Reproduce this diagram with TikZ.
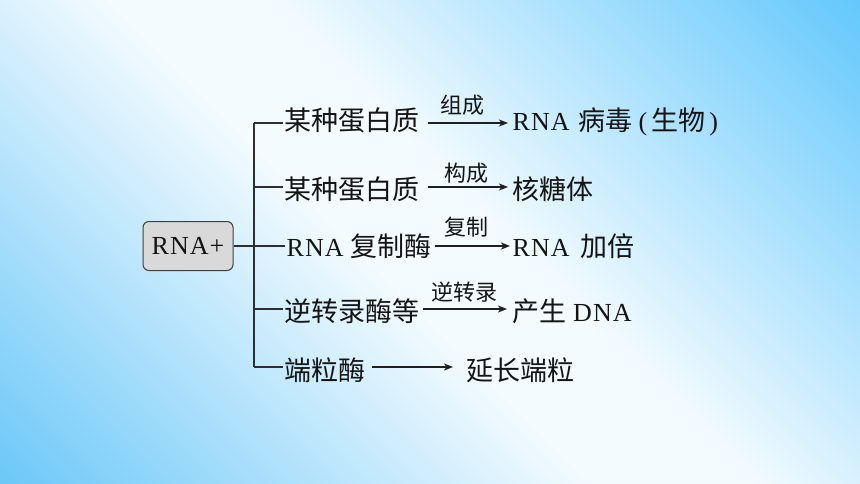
\documentclass[tikz,border=0pt]{standalone}
\usepackage{fontspec}
\setmainfont{Liberation Serif}[LetterSpace=4]
\newfontfamily\cjk{Noto Sans CJK SC}
\usetikzlibrary{arrows.meta}
\newcommand\zh[1]{{\cjk\fontsize{27}{30}\selectfont #1}}
\newcommand\zl[1]{{\cjk\fontsize{22}{26}\selectfont #1}}
\definecolor{skyA}{RGB}{100,200,252}
\definecolor{skyB}{RGB}{108,200,248}
\pgfdeclareverticalshading{bgsh}{100bp}{color(0bp)=(skyB); color(14.6bp)=(skyB); color(31bp)=(skyB!52!white); color(46bp)=(skyA!7!white); color(54bp)=(skyA!7!white); color(69bp)=(skyA!52!white); color(85.4bp)=(skyA); color(100bp)=(skyA)}
\begin{document}
\begin{tikzpicture}[x=1pt,y=-1pt,
  txt/.style={anchor=base west, inner sep=0pt, font=\fontsize{26}{30}\selectfont, text=black!92},
  lab/.style={anchor=base, inner sep=0pt, text=black!92},
  ln/.style={line width=1.3pt, draw=black!82},
  arr/.style={line width=1.2pt, draw=black!88, -{Stealth[length=9pt,width=7pt,inset=2.5pt]}},
  box/.style={draw=black!75, fill=black!15, rounded corners=6pt, line width=1pt,
    minimum width=90pt, minimum height=49pt, inner sep=0pt,
    font=\fontsize{26}{30}\selectfont, text=black!92},
]
\useasboundingbox (0,0) rectangle (860,484);
\shade[shading=bgsh, shading angle=-45] (0,0) rectangle (860,484);

\node[box] (rna) at (188,246) {RNA+};

\coordinate (j1) at (254,123);
\coordinate (j2) at (254,187);
\coordinate (j3) at (254,246);
\coordinate (j4) at (254,309);
\coordinate (j5) at (254,367);

% sources
\node[txt] (s1) at (284,131) {\zh{某种蛋白质}};
\node[txt] (s2) at (284,200) {\zh{某种蛋白质}};
\node[txt] (s3) at (286.5,256.7) {RNA\hspace{7pt}\zh{复制酶}};
\node[txt] (s4) at (284,321) {\zh{逆转录酶等}};
\node[txt] (s5) at (284,380) {\zh{端粒酶}};

% targets
\node[txt] (t1) at (512.5,131) {RNA\hspace{9pt}\zh{病毒}\hspace{6pt}(\hspace{4pt}\zh{生物}\hspace{4pt})};
\node[txt] (t2) at (512,200) {\zh{核糖体}};
\node[txt] (t3) at (512.5,256.7) {RNA\hspace{11pt}\zh{加倍}};
\node[txt] (t4) at (512,321) {\zh{产生}\hspace{7pt}DNA};
\node[txt] (t5) at (466,380) {\zh{延长端粒}};

% labels
\node[lab] (l1) at (462.5,113.5) {\zl{组成}};
\node[lab] (l2) at (466.5,181.5) {\zl{构成}};
\node[lab] (l3) at (466.5,235.5) {\zl{复制}};
\node[lab] (l4) at (464,300.5) {\zl{逆转录}};

% tree
\draw[ln] (rna.east |- j3) -- (j3);
\draw[ln] (j1) -- (j5);
\foreach \i in {1,...,5} {
  \draw[ln, shorten >=1.5pt] (j\i) -- (s\i.west |- j\i);
}

% arrows
\draw[arr, shorten <=9pt, shorten >=4.5pt] (s1.east |- j1) -- (t1.west |- j1);
\draw[arr, shorten <=9pt, shorten >=4pt] (s2.east |- j2) -- (t2.west |- j2);
\draw[arr, shorten <=3.5pt, shorten >=2.5pt] (s3.east |- j3) -- (t3.west |- j3);
\draw[arr, shorten <=4pt, shorten >=5pt] (s4.east |- j4) -- (t4.west |- j4);
\draw[arr, shorten <=7pt, shorten >=13pt] (s5.east |- j5) -- (t5.west |- j5);
\end{tikzpicture}
\end{document}
